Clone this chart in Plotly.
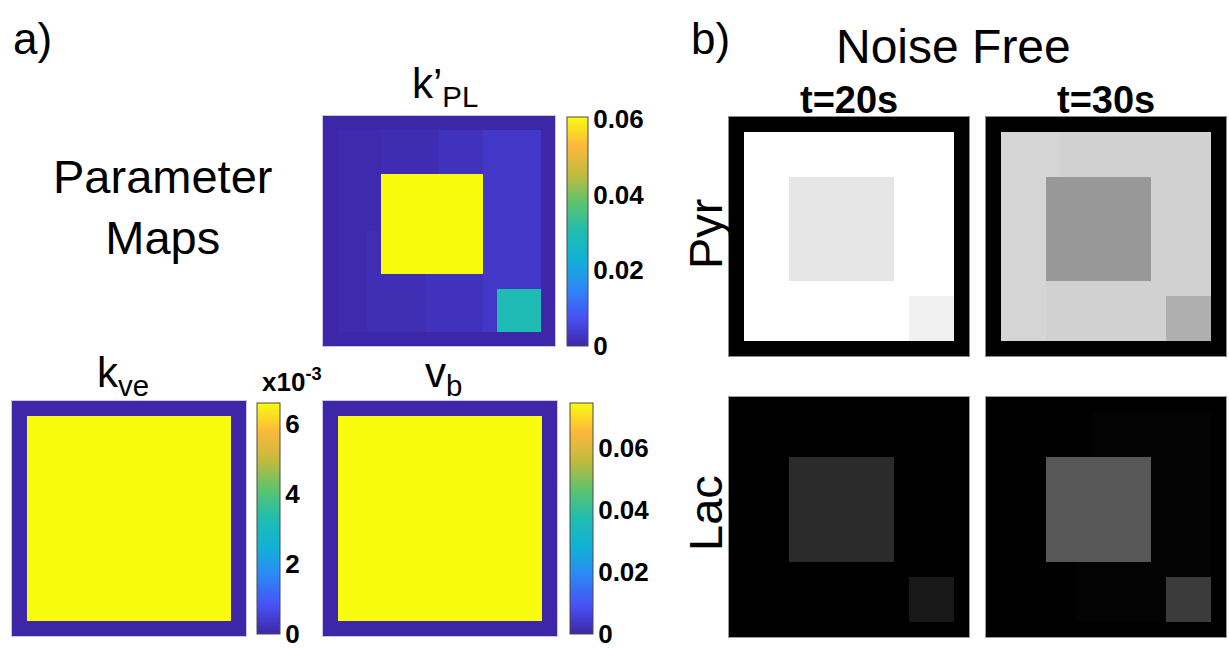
import numpy as np
import plotly.graph_objects as go

# ---------------- data ----------------
GRID = 16                       # 16 x 16 voxel phantom
CENTER_CELLS = (4, 11)          # big square rows/cols [4, 11)
SMALL_CELLS = (12, 15)          # small square rows/cols [12, 15)
SPLIT_ROW = 8                   # background bands change at this row

# k'PL map (1/s)
kpl_border = 0.0
kpl_bands_top_edges = [1, 4, 8, 11, 15]
kpl_bands_top = [0.0005, 0.0010, 0.0020, 0.0030]
kpl_bands_bot_edges = [1, 3, 7, 11, 15]
kpl_bands_bot = [0.0005, 0.0012, 0.0020, 0.0030]
kpl_center = 0.0605
kpl_small = 0.0295
kpl_range = [0.0, 0.0605]
kpl_ticks = [0.0, 0.02, 0.04, 0.06]
kpl_ticktext = ["0", "0.02", "0.04", "0.06"]

# kve map
kve_border = 0.0
kve_inner = 0.0066
kve_range = [0.0, 0.0066]
kve_ticks = [0.0, 0.002, 0.004, 0.006]
kve_ticktext = ["0", "2", "4", "6"]

# vb map
vb_border = 0.0
vb_inner = 0.0745
vb_range = [0.0, 0.0745]
vb_ticks = [0.0, 0.02, 0.04, 0.06]
vb_ticktext = ["0", "0.02", "0.04", "0.06"]

# Noise-free simulated images (normalised grey level 0..1)
pyr20_border, pyr20_bg, pyr20_center, pyr20_small = 0.0, 1.0, 0.90, 0.94
pyr30_border = 0.0
pyr30_bands_top_edges = [1, 5, 15]
pyr30_bands_top = [0.835, 0.82]
pyr30_bands_bot_edges = [1, 4, 15]
pyr30_bands_bot = [0.835, 0.82]
pyr30_center, pyr30_small = 0.596, 0.686
lac20_border, lac20_bg, lac20_center, lac20_small = 0.0, 0.0, 0.17, 0.094
lac30_border = 0.0
lac30_bands_top_edges = [1, 7, 15]
lac30_bands_top = [0.0, 0.012]
lac30_bands_bot_edges = [1, 6, 15]
lac30_bands_bot = [0.0, 0.012]
lac30_center, lac30_small = 0.34, 0.23


def phantom(border, top_edges, top_vals, bot_edges, bot_vals, center, small):
    z = np.full((GRID, GRID), float(border))
    for r in range(1, GRID - 1):
        edges, vals = (top_edges, top_vals) if r < SPLIT_ROW else (bot_edges, bot_vals)
        for i, v in enumerate(vals):
            z[r, edges[i]:edges[i + 1]] = v
    a, b = CENTER_CELLS
    z[a:b, a:b] = center
    a, b = SMALL_CELLS
    z[a:b, a:b] = small
    return z


z_kpl = phantom(kpl_border, kpl_bands_top_edges, kpl_bands_top,
                kpl_bands_bot_edges, kpl_bands_bot, kpl_center, kpl_small)
z_kve = phantom(kve_border, [1, 15], [kve_inner], [1, 15], [kve_inner], kve_inner, kve_inner)
z_vb = phantom(vb_border, [1, 15], [vb_inner], [1, 15], [vb_inner], vb_inner, vb_inner)
z_pyr20 = phantom(pyr20_border, [1, 15], [pyr20_bg], [1, 15], [pyr20_bg], pyr20_center, pyr20_small)
z_pyr30 = phantom(pyr30_border, pyr30_bands_top_edges, pyr30_bands_top,
                  pyr30_bands_bot_edges, pyr30_bands_bot, pyr30_center, pyr30_small)
z_lac20 = phantom(lac20_border, [1, 15], [lac20_bg], [1, 15], [lac20_bg], lac20_center, lac20_small)
z_lac30 = phantom(lac30_border, lac30_bands_top_edges, lac30_bands_top,
                  lac30_bands_bot_edges, lac30_bands_bot, lac30_center, lac30_small)

# ---------------- styling ----------------
W, H = 1229, 648
FONT = "Liberation Sans, Arial, sans-serif"

PARULA = [
    [0.000, "#3e26a8"], [0.125, "#4752f4"], [0.250, "#2d87f7"],
    [0.375, "#11b1d6"], [0.500, "#1fbdb0"], [0.625, "#5cc36e"],
    [0.750, "#c2bb3e"], [0.875, "#fcb83c"], [1.000, "#f9fb0e"],
]
GRAY = [[0, "#000000"], [1, "#ffffff"]]


def fx(p):
    return p / W


def fy(p):
    return 1 - p / H


# panel boxes in pixels: (left, right, top, bottom)
boxes = {
    "kpl": (323, 555, 116, 346),
    "kve": (12, 246, 401, 636),
    "vb": (323, 557, 401, 636),
    "pyr20": (729, 969, 117, 356),
    "pyr30": (986, 1226, 117, 356),
    "lac20": (729, 969, 397, 637),
    "lac30": (986, 1226, 397, 637),
}

fig = go.Figure()
layout_axes = {}

panels = [
    ("kpl", z_kpl, dict(coloraxis="coloraxis"), "#c9c6e6"),
    ("kve", z_kve, dict(coloraxis="coloraxis2"), "#c9c6e6"),
    ("vb", z_vb, dict(coloraxis="coloraxis3"), "#c9c6e6"),
    ("pyr20", z_pyr20, dict(colorscale=GRAY, zmin=0, zmax=1, showscale=False), "#8a8a8a"),
    ("pyr30", z_pyr30, dict(colorscale=GRAY, zmin=0, zmax=1, showscale=False), "#8a8a8a"),
    ("lac20", z_lac20, dict(colorscale=GRAY, zmin=0, zmax=1, showscale=False), "#9a9a9a"),
    ("lac30", z_lac30, dict(colorscale=GRAY, zmin=0, zmax=1, showscale=False), "#9a9a9a"),
]

for i, (name, z, kw, lc) in enumerate(panels, start=1):
    sfx = "" if i == 1 else str(i)
    fig.add_trace(go.Heatmap(z=z, xaxis="x" + sfx, yaxis="y" + sfx,
                             hoverinfo="skip", **kw))
    l, r, t, b = boxes[name]
    common = dict(showgrid=False, zeroline=False, showticklabels=False, ticks="",
                  showline=True, mirror=True, linecolor=lc, linewidth=1)
    layout_axes["xaxis" + sfx] = dict(domain=[fx(l), fx(r)], range=[-0.5, GRID - 0.5],
                                      anchor="y" + sfx, **common)
    layout_axes["yaxis" + sfx] = dict(domain=[fy(b), fy(t)], range=[GRID - 0.5, -0.5],
                                      anchor="x" + sfx, **common)


def cbar(left, width, top, bottom, ticks, ticktext):
    return dict(
        x=fx(left), xanchor="left", xpad=0,
        y=fy((top + bottom) / 2), yanchor="middle", ypad=0,
        len=bottom - top, lenmode="pixels",
        thickness=width, thicknessmode="pixels",
        outlinewidth=1, outlinecolor="#4a4a4a",
        ticks="outside", ticklen=0, tickwidth=1, tickcolor="#222222",
        ticklabeloverflow="allow",
        tickvals=ticks, ticktext=ticktext,
        tickfont=dict(family=FONT, size=26, color="#000000", weight="bold"),
    )


fig.update_layout(
    width=W, height=H,
    margin=dict(l=0, r=0, t=0, b=0, autoexpand=False),
    paper_bgcolor="#ffffff", plot_bgcolor="#ffffff",
    showlegend=False,
    coloraxis=dict(colorscale=PARULA, cmin=kpl_range[0], cmax=kpl_range[1],
                   colorbar=cbar(567, 21, 117, 346, kpl_ticks, kpl_ticktext)),
    coloraxis2=dict(colorscale=PARULA, cmin=kve_range[0], cmax=kve_range[1],
                    colorbar=cbar(257, 23, 403, 634, kve_ticks, kve_ticktext)),
    coloraxis3=dict(colorscale=PARULA, cmin=vb_range[0], cmax=vb_range[1],
                    colorbar=cbar(570, 23, 403, 634, vb_ticks, vb_ticktext)),
    **layout_axes,
)


def label(text, x, y, size, bold=False, angle=0):
    fig.add_annotation(
        text=text, x=fx(x), y=fy(y), xref="paper", yref="paper",
        xanchor="center", yanchor="middle", showarrow=False, textangle=angle,
        font=dict(family=FONT, size=size, color="#000000",
                  weight="bold" if bold else "normal"),
    )


label("a)", 32, 38, 44)
label("b)", 710, 38, 44)
label("Parameter<br>Maps", 162, 207, 47)
label("k’<sub>PL</sub>", 445, 86, 42)
label("k<sub>ve</sub>", 123, 375, 42)
label("v<sub>b</sub>", 444, 375, 42)
label("x10<sup>-3</sup>", 292, 381, 26, bold=True)
label("Noise Free", 953, 47, 48)
label("t=20s", 849, 100, 38, bold=True)
label("t=30s", 1106, 100, 38, bold=True)
label("Pyr", 705, 234, 47, angle=-90)
label("Lac", 705, 513, 47, angle=-90)

fig.write_html(
    "out.html",
    config={"displayModeBar": False},
    post_script="document.body.style.margin='0';document.body.style.overflow='hidden';",
)
